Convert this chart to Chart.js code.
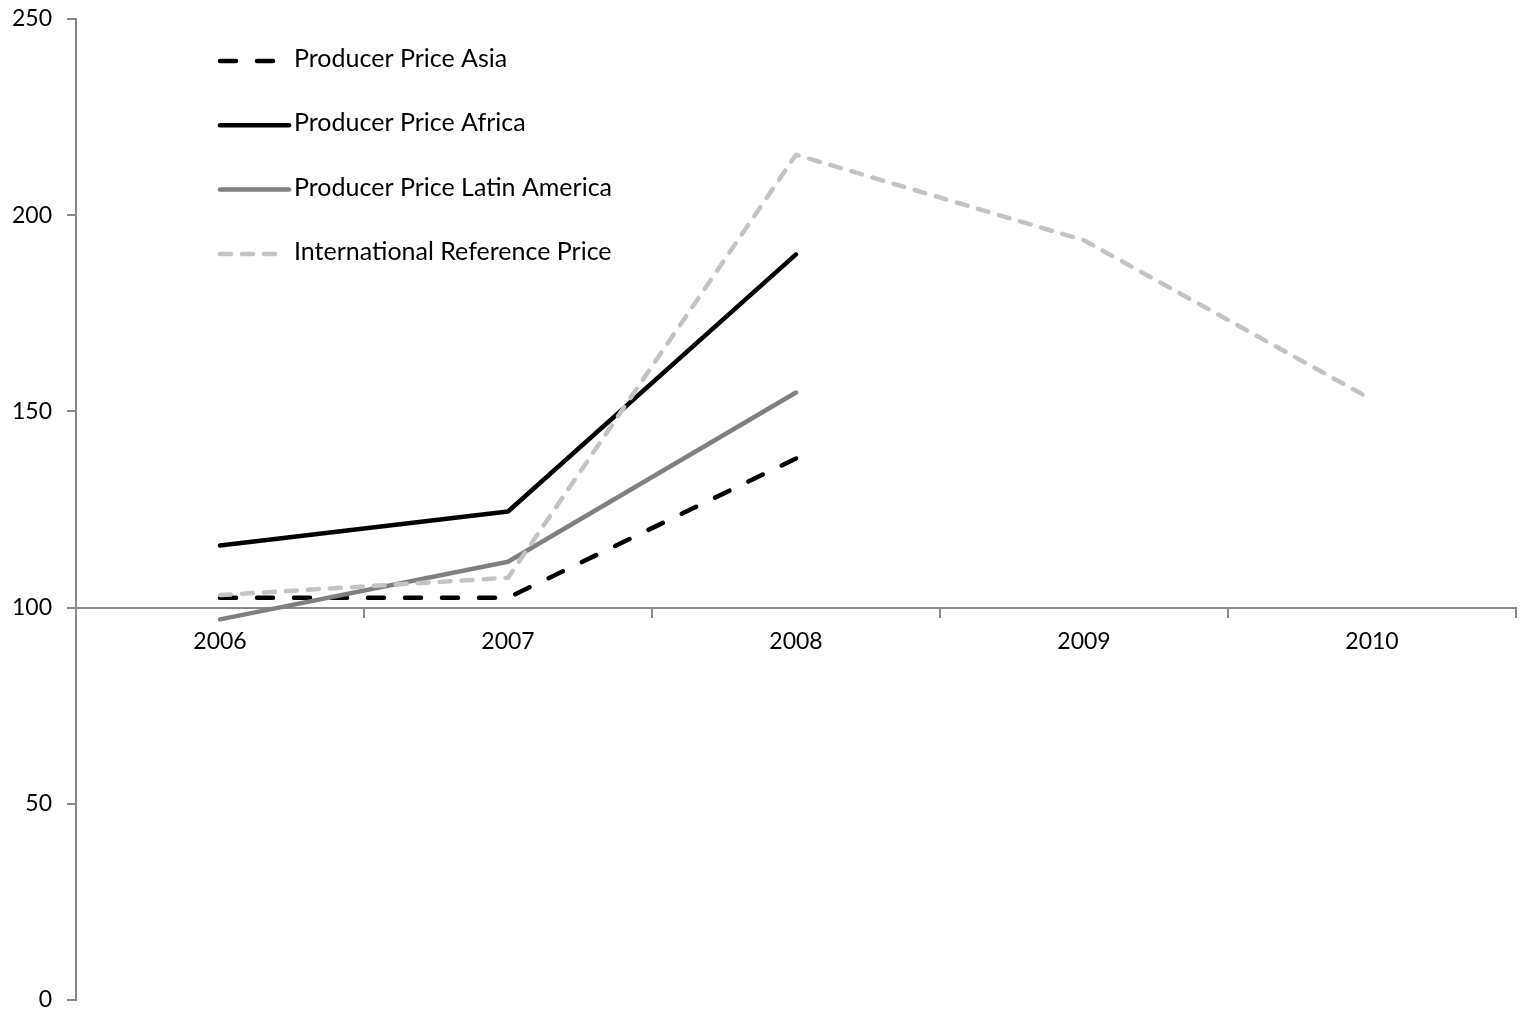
<!DOCTYPE html>
<html>
<head>
<meta charset="utf-8">
<script src="https://cdn.jsdelivr.net/npm/chart.js@4"></script>
<style>
    html, body { margin: 0; padding: 0; background: #fff; }
    #wrap { width: 1523px; height: 1011px; position: relative; }
</style>
</head>
<body>
<div id="wrap"><canvas id="priceChart"></canvas></div>
<script>
const years = ["2006", "2007", "2008", "2009", "2010"];
const asiaPrices = [102.5, 102.5, 138, null, null];
const africaPrices = [115.8, 124.5, 190, null, null];
const latinPrices = [97, 111.7, 154.8, null, null];
const referencePrices = [103.2, 107.6, 215.4, 193.6, 153];
const yTicks = [0, 50, 100, 150, 200, 250];

const FONT = "Lato, 'Open Sans', sans-serif";
const AXIS_GREY = "#878787";

// legend drawn inside the plot, top-left, like the original
const legendInside = {
    id: "legendInside",
    afterDraw(chart) {
        const ctx = chart.ctx;
        ctx.save();
        chart.data.datasets.forEach((ds, i) => {
            const base = 67 + i * 64.3;
            const ly = base - 6;
            ctx.beginPath();
            ctx.strokeStyle = ds.borderColor;
            ctx.lineWidth = ds.borderWidth;
            ctx.lineCap = "round";
            ctx.setLineDash(ds.borderDash || []);
            ctx.moveTo(220, ly);
            ctx.lineTo(ds.borderDash ? 278 : 289, ly);
            ctx.stroke();
            ctx.setLineDash([]);
            ctx.fillStyle = "#000";
            ctx.font = "25px " + FONT;
            ctx.textBaseline = "alphabetic";
            ctx.textAlign = "left";
            ctx.fillText(ds.label, 294, base);
        });
        ctx.restore();
    }
};

const ctx = document.getElementById("priceChart");
new Chart(ctx, {
    type: "line",
    data: {
        labels: years,
        datasets: [
            {
                label: "Producer Price Asia",
                data: asiaPrices,
                borderColor: "#000000",
                borderWidth: 4.5,
                borderDash: [16, 21],
                order: 4
            },
            {
                label: "Producer Price Africa",
                data: africaPrices,
                borderColor: "#000000",
                borderWidth: 4.5,
                order: 3
            },
            {
                label: "Producer Price Latin America",
                data: latinPrices,
                borderColor: "#808080",
                borderWidth: 4.5,
                order: 2
            },
            {
                label: "International Reference Price",
                data: referencePrices,
                borderColor: "#c3c3c3",
                borderWidth: 4.5,
                borderDash: [11, 11],
                order: 1
            }
        ]
    },
    options: {
        responsive: true,
        maintainAspectRatio: false,
        animation: false,
        layout: { padding: { left: 0, right: 7, top: 19, bottom: 11 } },
        elements: {
            point: { radius: 0, hoverRadius: 0 },
            line: { tension: 0, borderCapStyle: "round", borderJoinStyle: "round", fill: false }
        },
        plugins: {
            legend: { display: false },
            tooltip: { enabled: false }
        },
        scales: {
            x: {
                position: { y: 100 },
                offset: true,
                grid: {
                    offset: true,
                    drawOnChartArea: false,
                    drawTicks: true,
                    tickLength: 9,
                    color: AXIS_GREY,
                    lineWidth: 2
                },
                border: { color: AXIS_GREY, width: 2 },
                ticks: {
                    color: "#000",
                    padding: 11,
                    maxRotation: 0,
                    font: { family: FONT, size: 23 }
                }
            },
            y: {
                min: 0,
                max: 250,
                afterBuildTicks: (scale) => {
                    scale.ticks = yTicks.map(v => ({ value: v }));
                },
                afterFit: (scale) => {
                    scale.width = 76;
                    scale.paddingTop = 0;
                    scale.paddingBottom = 0;
                },
                grid: {
                    drawOnChartArea: false,
                    drawTicks: true,
                    tickLength: 9,
                    color: AXIS_GREY,
                    lineWidth: 2
                },
                border: { color: AXIS_GREY, width: 2 },
                ticks: {
                    color: "#000",
                    padding: 15,
                    font: { family: FONT, size: 23 }
                }
            }
        }
    },
    plugins: [legendInside]
});
</script>
</body>
</html>
